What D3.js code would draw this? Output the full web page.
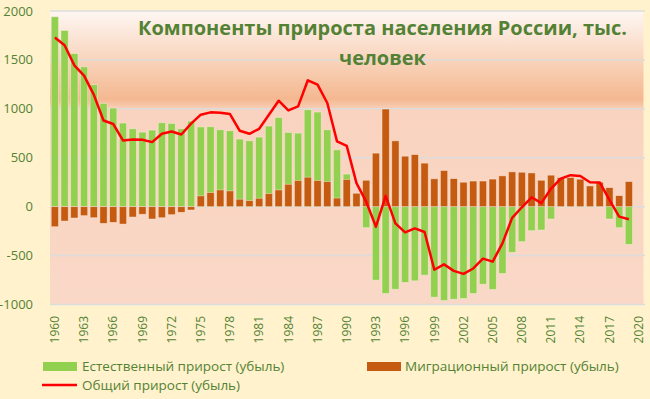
<!DOCTYPE html>
<html>
<head>
<meta charset="utf-8">
<script src="https://cdn.jsdelivr.net/npm/d3@7"></script>
<style>
  body { margin: 0; background: #FFF2CC; }
  svg { display: block; font-family: "Open Sans", sans-serif; }
</style>
</head>
<body>
<script>
var width = 650,
  height = 399;

var years = d3.range(1960, 2021);

var natural = [1941, 1801, 1565, 1429, 1247, 1056, 1008, 855, 796, 762,
  783, 858, 851, 796, 875, 815, 817, 786, 776, 691,
  673, 711, 824, 912, 759, 752, 991, 967, 786, 581,
  333, 104, -215, -751, -888, -844, -775, -758, -700, -925,
  -960, -946, -939, -888, -793, -846, -683, -468, -358, -246,
  -239, -126, -4, 24, 30, 32, -2, -126, -215, -386];

var migration = [-205, -147, -116, -92, -113, -171, -161, -178, -106, -78,
  -126, -113, -82, -58, -34, 110, 144, 171, 161, 76,
  62, 86, 133, 171, 229, 267, 301, 267, 256, 88,
  278, 137, 270, 547, 998, 673, 516, 533, 445, 285,
  370, 287, 250, 262, 262, 282, 315, 356, 352, 345,
  270, 322, 298, 298, 281, 212, 250, 195, 113, 257];

var total = [1729, 1650, 1445, 1340, 1145, 881, 845, 677, 687, 684,
  660, 745, 769, 738, 848, 940, 964, 960, 947, 776,
  745, 796, 940, 1083, 984, 1025, 1292, 1247, 1060, 667,
  622, 240, 51, -205, 110, -171, -263, -222, -259, -645,
  -590, -656, -687, -632, -531, -562, -375, -115, -6, 96,
  36, 185, 287, 322, 313, 250, 248, 69, -102, -129];

var yTicks = [-1000, -500, 0, 500, 1000, 1500, 2000];
var xTickYears = d3.range(1960, 2021, 3);

var titleLines = ["Компоненты прироста населения России, тыс.", "человек"];
var legendNames = ["Естественный прирост (убыль)", "Миграционный прирост (убыль)", "Общий прирост (убыль)"];

var green = "#92D050",
  brown = "#C55A11",
  red = "#FF0000",
  textGreen = "#548235";

var x = d3.scaleBand()
  .domain(years)
  .range([50, 643.5])
  .paddingInner(0.25)
  .paddingOuter(0.125);

var y = d3.scaleLinear()
  .domain([-1000, 2000])
  .range([304.5, 11]);

var svg = d3.select("body")
  .append("svg")
  .attr("width", width)
  .attr("height", height);

// plot area gradient
var grad = svg.append("defs")
  .append("linearGradient")
  .attr("id", "plotbg")
  .attr("x1", 0).attr("y1", 0)
  .attr("x2", 0).attr("y2", 1);

grad.selectAll("stop")
  .data([[0, "#FEF7F3"], [0.3, "#F4B890"], [0.34, "#F9D3BF"], [1, "#FAD8C7"]])
  .enter()
  .append("stop")
  .attr("offset", function (d) { return d[0]; })
  .attr("stop-color", function (d) { return d[1]; });

svg.append("rect")
  .attr("x", 50)
  .attr("y", y(2000))
  .attr("width", 643.5 - 50)
  .attr("height", y(-1000) - y(2000))
  .attr("fill", "url(#plotbg)");

// grid
svg.append("g")
  .selectAll("line")
  .data(yTicks)
  .enter()
  .append("line")
  .attr("x1", 50)
  .attr("x2", 645)
  .attr("y1", function (d) { return y(d); })
  .attr("y2", function (d) { return y(d); })
  .attr("stroke", "#DCDCDC")
  .attr("stroke-width", 1.5);

// y labels
svg.append("g")
  .selectAll("text")
  .data(yTicks)
  .enter()
  .append("text")
  .attr("x", 33)
  .attr("y", function (d) { return y(d); })
  .attr("dy", "0.35em")
  .attr("text-anchor", "end")
  .attr("font-size", 13)
  .attr("fill", textGreen)
  .text(function (d) { return d; });

// x labels
svg.append("g")
  .selectAll("text")
  .data(xTickYears)
  .enter()
  .append("text")
  .attr("transform", function (d) {
    return "translate(" + (x(d) + x.bandwidth() / 2) + ",316)rotate(-90)";
  })
  .attr("dy", "0.35em")
  .attr("text-anchor", "end")
  .attr("font-size", 12)
  .attr("fill", textGreen)
  .text(function (d) { return d; });

var dataYears = years.slice(0, natural.length);

function bars(values, color) {
  svg.append("g")
    .selectAll("rect")
    .data(values)
    .enter()
    .append("rect")
    .attr("x", function (d, i) { return x(dataYears[i]); })
    .attr("width", x.bandwidth())
    .attr("y", function (d) { return y(Math.max(0, d)); })
    .attr("height", function (d) { return Math.abs(y(d) - y(0)); })
    .attr("fill", color)
    .attr("stroke", "rgba(255,240,228,0.55)")
    .attr("stroke-width", 0.8);
}

bars(natural, green);
bars(migration, brown);

var line = d3.line()
  .x(function (d, i) { return x(dataYears[i]) + x.bandwidth() / 2; })
  .y(function (d) { return y(d); });

svg.append("path")
  .datum(total)
  .attr("d", line)
  .attr("fill", "none")
  .attr("stroke", red)
  .attr("stroke-width", 2.5)
  .attr("stroke-linejoin", "round");

// title
var title = svg.append("text")
  .attr("text-anchor", "middle")
  .attr("font-weight", "bold")
  .attr("font-size", 21)
  .attr("fill", textGreen);

title.selectAll("tspan")
  .data(titleLines)
  .enter()
  .append("tspan")
  .attr("x", 382.5)
  .attr("y", function (d, i) { return 35 + i * 30; })
  .text(function (d) { return d; });

// fit title width to the original
var t0 = title.select("tspan").node().getComputedTextLength();
title.attr("font-size", 21 * 489 / t0);

// legend
var legend = svg.append("g");

legend.append("rect")
  .attr("x", 43).attr("y", 362)
  .attr("width", 34).attr("height", 9)
  .attr("fill", green);

legend.append("rect")
  .attr("x", 367).attr("y", 362)
  .attr("width", 34).attr("height", 9)
  .attr("fill", brown);

legend.append("line")
  .attr("x1", 42).attr("x2", 77)
  .attr("y1", 385).attr("y2", 385)
  .attr("stroke", red)
  .attr("stroke-width", 2.5);

legend.selectAll("text")
  .data(legendNames)
  .enter()
  .append("text")
  .attr("x", function (d, i) { return i === 1 ? 405 : 82; })
  .attr("y", function (d, i) { return i === 2 ? 385 : 366.5; })
  .attr("dy", "0.35em")
  .attr("font-size", 13.5)
  .attr("fill", textGreen)
  .text(function (d) { return d; });
</script>
</body>
</html>
